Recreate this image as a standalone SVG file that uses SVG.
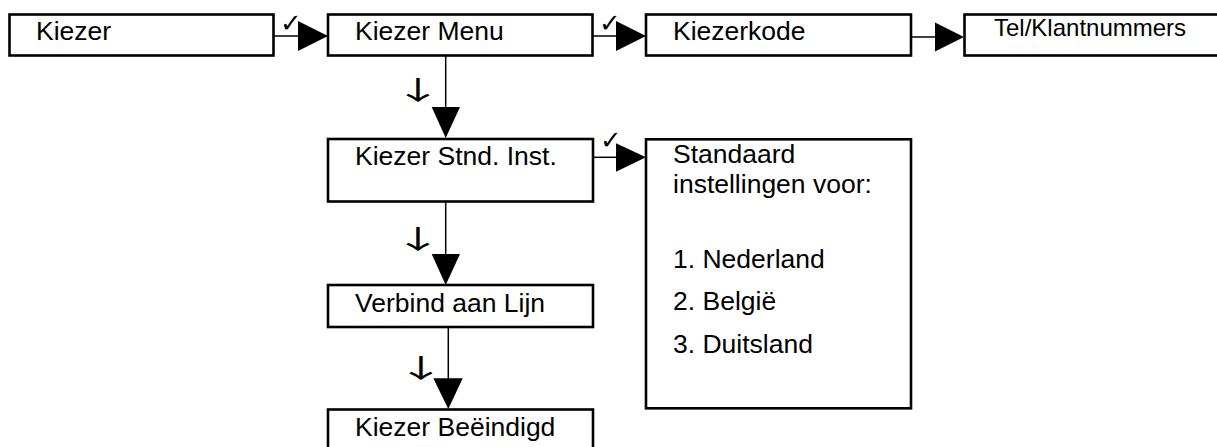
<svg xmlns="http://www.w3.org/2000/svg" width="1217" height="447" viewBox="0 0 1217 447">
<style>
.box{fill:#fff;stroke:#000;stroke-width:2.6}
.t{font-family:"Liberation Sans",Arial,sans-serif;font-size:26.5px;fill:#000}
.ts{font-family:"Liberation Sans",Arial,sans-serif;font-size:24px;fill:#000}
.ln{stroke:#000;stroke-width:1.5;fill:none}
.hd{fill:#000}
.chk{font-family:"DejaVu Sans",sans-serif;font-size:26px;fill:#000}
.dn{font-family:"Noto Sans CJK JP","DejaVu Sans",sans-serif;font-size:26px;fill:#000;text-anchor:middle}
</style>
<rect width="1217" height="447" fill="#fff"/>
<g id="connectors">
<line class="ln" x1="274" y1="36" x2="299" y2="36"/>
<polygon class="hd" points="298,21 328,36 298,51"/>
<text class="chk" x="280" y="32">✓</text>
<line class="ln" x1="593" y1="36" x2="617" y2="36"/>
<polygon class="hd" points="616,21 646,36 616,51"/>
<text class="chk" x="599" y="32">✓</text>
<line class="ln" x1="911" y1="37" x2="936" y2="37"/>
<polygon class="hd" points="935,22.5 964,37 935,51.5"/>
<line class="ln" x1="445.7" y1="56" x2="445.7" y2="108"/>
<polygon class="hd" points="431.7,107 460,107 445.7,138"/>
<text class="dn" transform="translate(418,100) scale(1.9,1)">↓</text>
<line class="ln" x1="592" y1="157.3" x2="617" y2="157.3"/>
<polygon class="hd" points="616,143.3 646,157.3 616,171.7"/>
<text class="chk" x="600" y="149">✓</text>
<line class="ln" x1="445.7" y1="202" x2="445.7" y2="255"/>
<polygon class="hd" points="431.7,254 460,254 445.7,285"/>
<text class="dn" transform="translate(418,248.5) scale(1.9,1)">↓</text>
<line class="ln" x1="448.3" y1="327" x2="448.3" y2="379"/>
<polygon class="hd" points="433.3,378.3 462.7,378.3 448.3,409"/>
<text class="dn" transform="translate(421,377.5) scale(1.9,1)">↓</text>
</g>
<g id="n1"><rect class="box" x="9.5" y="14.5" width="264" height="41"/><text class="t" x="36" y="40">Kiezer</text></g>
<g id="n2"><rect class="box" x="328" y="14.5" width="264.5" height="41"/><text class="t" x="355" y="40">Kiezer Menu</text></g>
<g id="n3"><rect class="box" x="646" y="14.5" width="265" height="41"/><text class="t" x="673" y="40">Kiezerkode</text></g>
<g id="n4"><rect class="box" x="964.5" y="14.5" width="262" height="41"/><text class="ts" x="994" y="36">Tel/Klantnummers</text></g>
<g id="n5"><rect class="box" x="328" y="139" width="265" height="62.5"/><text class="t" x="355" y="165">Kiezer Stnd. Inst.</text></g>
<g id="n6"><rect class="box" x="646" y="139.3" width="265" height="269"/>
<text class="t" x="673" y="163">Standaard</text>
<text class="t" x="673" y="193">instellingen voor:</text>
<text class="t" x="673" y="268">1. Nederland</text>
<text class="t" x="673" y="310">2. België</text>
<text class="t" x="673" y="352.5">3. Duitsland</text></g>
<g id="n7"><rect class="box" x="328" y="285" width="265" height="42"/><text class="t" x="355" y="311.5">Verbind aan Lijn</text></g>
<g id="n8"><rect class="box" x="328" y="409.5" width="265" height="50"/><text class="t" x="355" y="436">Kiezer Beëindigd</text></g>
</svg>
